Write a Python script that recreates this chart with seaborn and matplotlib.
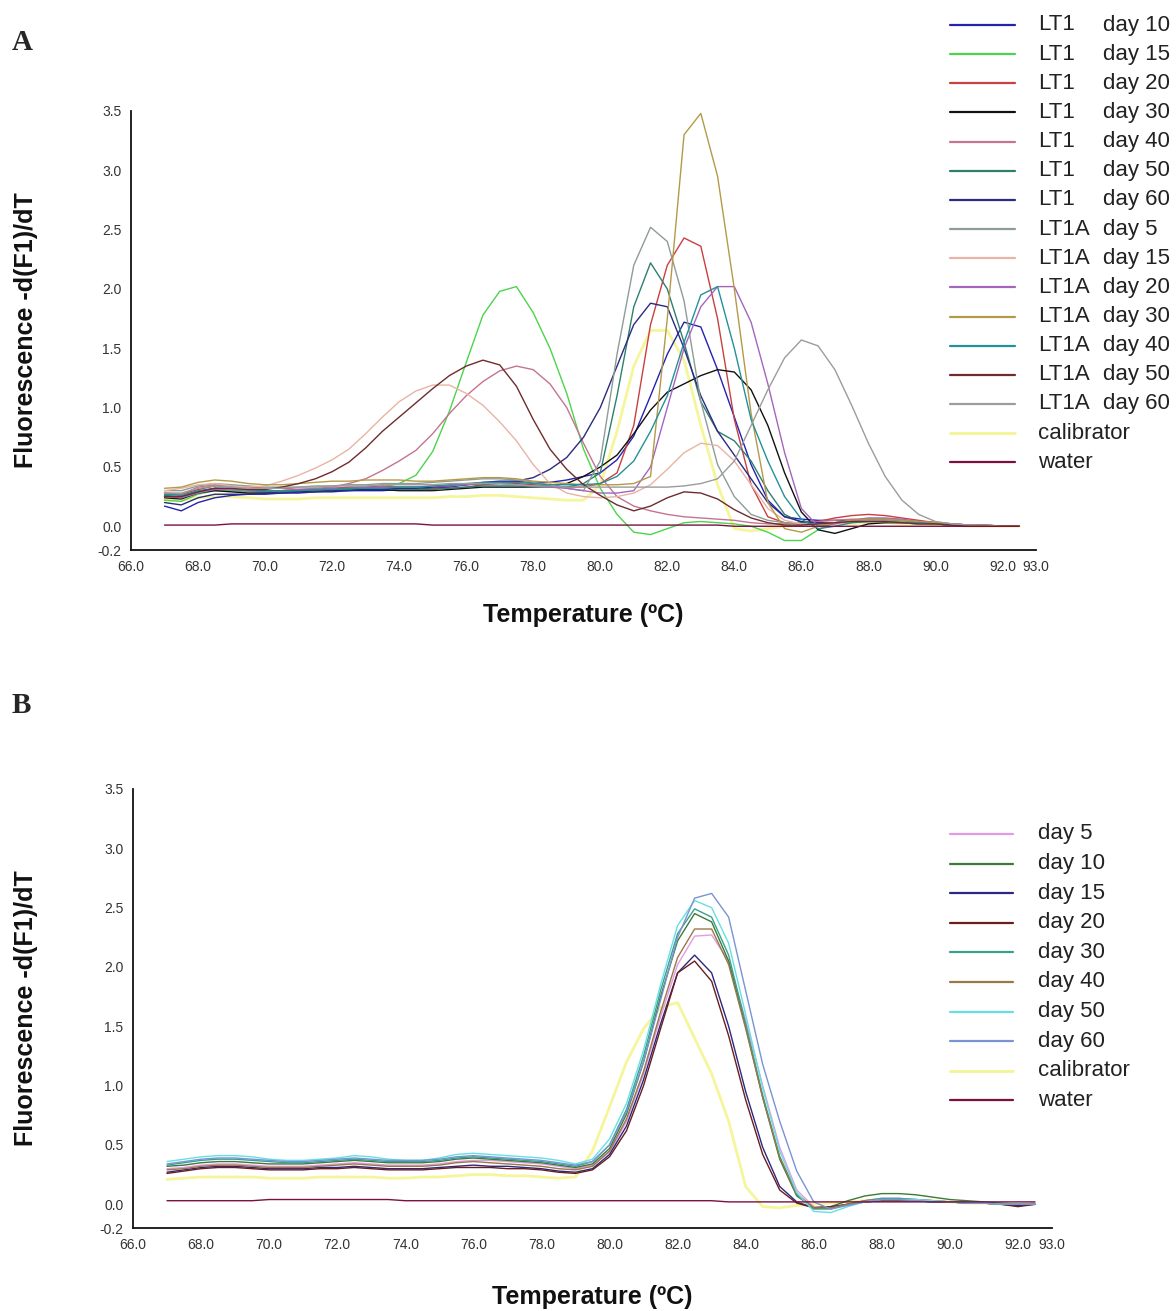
import numpy as np
import pandas as pd
import matplotlib
matplotlib.use("Agg")
import matplotlib.pyplot as plt
from matplotlib.lines import Line2D
import seaborn as sns

# ---------------- data ----------------
temps = np.round(np.arange(67.0, 92.51, 0.5), 2)  # 52 sampling temperatures

# Panel A
lt1_d10 = [0.17,0.13,0.20,0.24,0.26,0.27,0.27,0.28,0.28,0.29,
           0.29,0.30,0.30,0.30,0.31,0.31,0.32,0.33,0.35,0.37,
           0.38,0.38,0.37,0.37,0.39,0.42,0.45,0.56,0.76,1.10,
           1.45,1.72,1.68,1.32,0.92,0.52,0.22,0.08,0.06,0.05,
           0.05,0.05,0.06,0.06,0.05,0.04,0.03,0.02,0.01,0.01,
           0.00,0.00]
lt1_d15 = [0.22,0.21,0.27,0.30,0.30,0.29,0.29,0.30,0.30,0.31,
           0.31,0.32,0.32,0.33,0.36,0.43,0.63,0.97,1.38,1.78,
           1.98,2.02,1.80,1.50,1.12,0.65,0.32,0.10,-0.05,-0.07,
           -0.02,0.03,0.04,0.03,0.02,0.00,-0.05,-0.12,-0.12,-0.03,
           0.03,0.05,0.06,0.06,0.05,0.04,0.03,0.02,0.01,0.00,
           0.00,0.00]
lt1_d20 = [0.28,0.27,0.31,0.34,0.34,0.33,0.32,0.32,0.31,0.31,
           0.32,0.33,0.33,0.34,0.33,0.33,0.32,0.32,0.33,0.35,
           0.36,0.36,0.35,0.34,0.33,0.33,0.36,0.45,0.85,1.70,
           2.20,2.43,2.36,1.75,0.90,0.35,0.08,0.03,0.02,0.04,
           0.07,0.09,0.10,0.09,0.07,0.05,0.03,0.02,0.01,0.01,
           0.00,0.00]
lt1_d30 = [0.24,0.23,0.28,0.30,0.29,0.28,0.28,0.29,0.29,0.30,
           0.30,0.31,0.31,0.31,0.30,0.30,0.30,0.31,0.32,0.33,
           0.33,0.33,0.33,0.34,0.36,0.42,0.50,0.60,0.78,0.98,
           1.13,1.20,1.27,1.32,1.30,1.15,0.85,0.45,0.12,-0.03,
           -0.06,-0.02,0.02,0.03,0.03,0.02,0.02,0.01,0.01,0.00,
           0.00,0.00]
lt1_d40 = [0.27,0.27,0.33,0.35,0.33,0.31,0.30,0.30,0.31,0.32,
           0.33,0.36,0.40,0.47,0.55,0.64,0.78,0.95,1.10,1.22,
           1.31,1.35,1.32,1.20,1.00,0.70,0.42,0.25,0.17,0.13,
           0.10,0.08,0.07,0.06,0.05,0.03,0.02,0.02,0.03,0.04,
           0.05,0.06,0.06,0.05,0.04,0.03,0.02,0.01,0.01,0.00,
           0.00,0.00]
lt1_d50 = [0.26,0.25,0.29,0.32,0.31,0.30,0.29,0.29,0.30,0.30,
           0.31,0.31,0.32,0.32,0.31,0.31,0.31,0.32,0.33,0.34,
           0.34,0.34,0.33,0.33,0.33,0.36,0.45,1.10,1.85,2.22,
           2.00,1.55,1.05,0.80,0.72,0.55,0.30,0.10,0.03,0.02,
           0.03,0.04,0.05,0.05,0.04,0.03,0.02,0.01,0.01,0.00,
           0.00,0.00]
lt1_d60 = [0.20,0.18,0.24,0.27,0.27,0.27,0.28,0.28,0.29,0.29,
           0.30,0.30,0.31,0.31,0.32,0.32,0.33,0.34,0.35,0.36,
           0.37,0.38,0.41,0.48,0.58,0.75,1.00,1.35,1.70,1.88,
           1.85,1.50,1.10,0.80,0.60,0.40,0.20,0.08,0.04,0.03,
           0.03,0.04,0.05,0.05,0.04,0.03,0.02,0.01,0.01,0.00,
           0.00,0.00]
lt1a_d5 = [0.30,0.30,0.34,0.36,0.35,0.34,0.33,0.33,0.33,0.34,
           0.34,0.35,0.35,0.36,0.36,0.36,0.37,0.38,0.39,0.40,
           0.40,0.39,0.37,0.35,0.32,0.30,0.55,1.45,2.20,2.52,
           2.40,1.90,1.05,0.52,0.25,0.10,0.05,0.03,0.02,0.02,
           0.03,0.04,0.05,0.05,0.04,0.03,0.02,0.01,0.01,0.00,
           0.00,0.00]
lt1a_d15 = [0.30,0.32,0.35,0.36,0.34,0.33,0.34,0.38,0.43,0.49,
            0.56,0.65,0.78,0.92,1.05,1.14,1.19,1.19,1.12,1.02,
            0.88,0.72,0.52,0.36,0.28,0.25,0.24,0.25,0.28,0.35,
            0.48,0.62,0.70,0.68,0.55,0.35,0.15,0.05,0.02,0.01,
            0.02,0.03,0.04,0.04,0.03,0.02,0.02,0.01,0.01,0.00,
            0.00,0.00]
lt1a_d20 = [0.25,0.24,0.28,0.31,0.31,0.30,0.30,0.30,0.31,0.31,
            0.32,0.32,0.33,0.33,0.33,0.33,0.34,0.34,0.35,0.36,
            0.36,0.35,0.34,0.33,0.32,0.30,0.28,0.28,0.30,0.50,
            1.00,1.50,1.85,2.02,2.02,1.72,1.20,0.62,0.15,0.00,
            0.02,0.05,0.07,0.07,0.06,0.04,0.03,0.02,0.01,0.00,
            0.00,0.00]
lt1a_d30 = [0.32,0.33,0.37,0.39,0.38,0.36,0.35,0.35,0.36,0.37,
            0.38,0.38,0.39,0.39,0.39,0.38,0.38,0.39,0.40,0.41,
            0.41,0.40,0.38,0.37,0.36,0.35,0.35,0.35,0.36,0.42,
            1.75,3.30,3.48,2.95,2.00,0.95,0.20,-0.02,-0.05,0.00,
            0.03,0.05,0.06,0.06,0.05,0.04,0.03,0.02,0.01,0.00,
            0.00,0.00]
lt1a_d40 = [0.27,0.26,0.30,0.32,0.32,0.31,0.30,0.30,0.30,0.31,
            0.31,0.32,0.32,0.32,0.33,0.33,0.34,0.35,0.36,0.37,
            0.37,0.37,0.36,0.35,0.35,0.35,0.36,0.42,0.55,0.80,
            1.10,1.55,1.95,2.02,1.50,0.90,0.55,0.25,0.06,-0.02,
            0.00,0.03,0.04,0.04,0.03,0.03,0.02,0.01,0.01,0.00,
            0.00,0.00]
lt1a_d50 = [0.25,0.25,0.29,0.32,0.32,0.31,0.31,0.33,0.36,0.40,
            0.46,0.54,0.66,0.80,0.92,1.04,1.16,1.27,1.35,1.40,
            1.36,1.18,0.90,0.65,0.48,0.35,0.26,0.18,0.13,0.17,
            0.24,0.29,0.28,0.23,0.14,0.07,0.03,0.01,0.01,0.02,
            0.03,0.04,0.04,0.04,0.03,0.02,0.02,0.01,0.00,0.00,
            0.00,0.00]
lt1a_d60 = [0.28,0.28,0.32,0.34,0.33,0.32,0.32,0.32,0.33,0.33,
            0.34,0.34,0.34,0.35,0.35,0.35,0.35,0.36,0.36,0.36,
            0.36,0.35,0.34,0.34,0.33,0.33,0.33,0.33,0.33,0.33,
            0.33,0.34,0.36,0.40,0.55,0.85,1.15,1.42,1.57,1.52,
            1.32,1.02,0.70,0.42,0.22,0.10,0.04,0.02,0.01,0.01,
            0.00,0.00]
a_calibrator = [0.22,0.22,0.24,0.25,0.25,0.24,0.23,0.23,0.23,0.24,
                0.24,0.24,0.24,0.24,0.24,0.24,0.24,0.25,0.25,0.26,
                0.26,0.25,0.24,0.23,0.22,0.22,0.35,0.80,1.35,1.65,
                1.65,1.40,0.85,0.35,-0.02,-0.04,-0.02,0.00,0.01,0.02,
                0.02,0.02,0.03,0.03,0.02,0.02,0.01,0.01,0.00,0.00,
                0.00,0.00]
a_water = [0.01,0.01,0.01,0.01,0.02,0.02,0.02,0.02,0.02,0.02,
           0.02,0.02,0.02,0.02,0.02,0.02,0.01,0.01,0.01,0.01,
           0.01,0.01,0.01,0.01,0.01,0.01,0.01,0.01,0.01,0.01,
           0.01,0.01,0.01,0.01,0.00,0.00,0.00,0.00,0.00,0.00,
           0.00,0.00,0.00,0.00,0.00,0.00,0.00,0.00,0.00,0.00,
           0.00,0.00]

# Panel B
b_d5 = [0.30,0.31,0.33,0.34,0.34,0.33,0.32,0.32,0.32,0.33,
        0.34,0.35,0.34,0.33,0.33,0.33,0.34,0.36,0.37,0.37,
        0.36,0.35,0.34,0.32,0.30,0.33,0.44,0.70,1.10,1.58,
        2.02,2.26,2.27,2.05,1.55,1.00,0.48,0.12,-0.02,-0.03,
        0.00,0.03,0.05,0.05,0.04,0.03,0.02,0.02,0.01,0.00,
        0.00,0.01]
b_d10 = [0.32,0.33,0.35,0.36,0.36,0.35,0.34,0.34,0.34,0.35,
         0.36,0.37,0.36,0.35,0.35,0.35,0.36,0.38,0.39,0.38,
         0.37,0.36,0.35,0.33,0.31,0.34,0.47,0.76,1.20,1.75,
         2.22,2.45,2.38,2.05,1.50,0.90,0.38,0.07,-0.03,-0.02,
         0.03,0.07,0.09,0.09,0.08,0.06,0.04,0.03,0.02,0.01,
         0.00,0.00]
b_d15 = [0.27,0.29,0.31,0.32,0.32,0.31,0.30,0.30,0.30,0.31,
         0.31,0.32,0.31,0.30,0.30,0.30,0.31,0.32,0.33,0.32,
         0.32,0.31,0.30,0.28,0.27,0.30,0.42,0.66,1.05,1.52,
         1.95,2.10,1.95,1.50,0.95,0.48,0.15,0.02,-0.03,-0.03,
         0.00,0.02,0.03,0.03,0.03,0.02,0.02,0.01,0.01,0.00,
         -0.01,0.00]
b_d20 = [0.26,0.28,0.30,0.31,0.31,0.30,0.29,0.29,0.29,0.30,
         0.30,0.31,0.30,0.29,0.29,0.29,0.30,0.31,0.31,0.31,
         0.30,0.30,0.29,0.27,0.26,0.29,0.40,0.62,1.00,1.48,
         1.95,2.05,1.88,1.42,0.88,0.42,0.12,0.01,-0.03,-0.02,
         0.00,0.02,0.03,0.03,0.03,0.02,0.02,0.01,0.01,0.00,
         -0.02,0.00]
b_d30 = [0.33,0.35,0.37,0.38,0.38,0.37,0.36,0.35,0.35,0.36,
         0.37,0.38,0.37,0.36,0.36,0.36,0.37,0.39,0.40,0.39,
         0.38,0.37,0.36,0.34,0.32,0.36,0.50,0.80,1.25,1.80,
         2.28,2.49,2.42,2.10,1.52,0.92,0.40,0.08,-0.04,-0.04,
         0.00,0.03,0.05,0.05,0.04,0.03,0.02,0.02,0.01,0.00,
         0.00,0.00]
b_d40 = [0.29,0.30,0.32,0.33,0.33,0.32,0.31,0.31,0.31,0.32,
         0.33,0.34,0.33,0.32,0.32,0.32,0.33,0.35,0.36,0.35,
         0.34,0.33,0.32,0.30,0.29,0.32,0.45,0.72,1.12,1.62,
         2.08,2.32,2.32,2.02,1.48,0.90,0.40,0.09,-0.03,-0.03,
         0.00,0.03,0.04,0.04,0.04,0.03,0.02,0.02,0.01,0.00,
         0.00,0.00]
b_d50 = [0.36,0.38,0.40,0.41,0.41,0.40,0.38,0.37,0.37,0.38,
         0.39,0.41,0.40,0.38,0.37,0.37,0.39,0.42,0.43,0.42,
         0.41,0.40,0.39,0.37,0.34,0.38,0.55,0.85,1.30,1.85,
         2.35,2.56,2.50,2.20,1.60,0.98,0.45,0.10,-0.06,-0.07,
         -0.02,0.02,0.04,0.04,0.04,0.03,0.02,0.01,0.01,0.00,
         0.00,0.00]
b_d60 = [0.34,0.36,0.38,0.39,0.39,0.38,0.37,0.36,0.36,0.37,
         0.38,0.39,0.38,0.37,0.37,0.37,0.38,0.40,0.41,0.40,
         0.39,0.38,0.37,0.35,0.33,0.36,0.50,0.78,1.20,1.72,
         2.25,2.58,2.62,2.42,1.80,1.18,0.70,0.28,0.02,-0.04,
         -0.01,0.02,0.04,0.04,0.03,0.02,0.02,0.01,0.01,0.00,
         0.00,0.00]
b_calibrator = [0.21,0.22,0.23,0.23,0.23,0.23,0.22,0.22,0.22,0.23,
                0.23,0.23,0.23,0.22,0.22,0.23,0.23,0.24,0.25,0.25,
                0.24,0.24,0.23,0.22,0.23,0.45,0.82,1.20,1.48,1.66,
                1.70,1.40,1.10,0.70,0.15,-0.02,-0.03,-0.01,0.00,0.01,
                0.02,0.03,0.04,0.04,0.03,0.03,0.02,0.01,0.01,0.00,
                0.00,0.00]
b_water = [0.03,0.03,0.03,0.03,0.03,0.03,0.04,0.04,0.04,0.04,
           0.04,0.04,0.04,0.04,0.03,0.03,0.03,0.03,0.03,0.03,
           0.03,0.03,0.03,0.03,0.03,0.03,0.03,0.03,0.03,0.03,
           0.03,0.03,0.03,0.02,0.02,0.02,0.02,0.02,0.02,0.02,
           0.02,0.02,0.02,0.02,0.02,0.02,0.02,0.02,0.02,0.02,
           0.02,0.02]

a_names = ["LT1 day 10", "LT1 day 15", "LT1 day 20", "LT1 day 30", "LT1 day 40",
           "LT1 day 50", "LT1 day 60", "LT1A day 5", "LT1A day 15", "LT1A day 20",
           "LT1A day 30", "LT1A day 40", "LT1A day 50", "LT1A day 60",
           "calibrator", "water"]
a_series = [lt1_d10, lt1_d15, lt1_d20, lt1_d30, lt1_d40, lt1_d50, lt1_d60,
            lt1a_d5, lt1a_d15, lt1a_d20, lt1a_d30, lt1a_d40, lt1a_d50, lt1a_d60,
            a_calibrator, a_water]
a_colors = ["#2323b0", "#4cd44c", "#c84040", "#111111", "#c47490", "#2f7f6f",
            "#2b2b80", "#8e9c98", "#e8b4a4", "#a466bc", "#b49a48", "#25909a",
            "#6e2c2c", "#9c9c9c", "#f2f27a", "#7a1040"]

b_names = ["day 5", "day 10", "day 15", "day 20", "day 30", "day 40", "day 50",
           "day 60", "calibrator", "water"]
b_series = [b_d5, b_d10, b_d15, b_d20, b_d30, b_d40, b_d50, b_d60,
            b_calibrator, b_water]
b_colors = ["#e49ae4", "#3a7a3a", "#2c2880", "#6a1e1e", "#3aa08e", "#9a7848",
            "#66e0e4", "#7894d4", "#f2f27a", "#7a1040"]

xticks = [66, 68, 70, 72, 74, 76, 78, 80, 82, 84, 86, 88, 90, 92, 93]
xtick_labels = ["66.0", "68.0", "70.0", "72.0", "74.0", "76.0", "78.0", "80.0",
                "82.0", "84.0", "86.0", "88.0", "90.0", "92.0", "93.0"]
yticks = [-0.2, 0.0, 0.5, 1.0, 1.5, 2.0, 2.5, 3.0, 3.5]
ytick_labels = ["-0.2", "0.0", "0.5", "1.0", "1.5", "2.0", "2.5", "3.0", "3.5"]

# ---------------- drawing ----------------
sns.set_style("white")
plt.rcParams["font.family"] = ["Liberation Sans", "DejaVu Sans"]

W, H = 1176, 1311
fig = plt.figure(figsize=(W / 100, H / 100), dpi=100)


def px_box(left, top, right, bottom):
    return [left / W, 1 - bottom / H, (right - left) / W, (bottom - top) / H]


def draw_panel(ax, names, series, colors):
    frames = []
    for n, vals in zip(names, series):
        assert len(vals) == len(temps), n
        frames.append(pd.DataFrame({"sample": n, "T": temps, "value": vals}))
    df = pd.concat(frames, ignore_index=True)
    pal = dict(zip(names, colors))
    cal = df[df["sample"] == "calibrator"]
    rest = df[df["sample"] != "calibrator"]
    rest_names = [n for n in names if n != "calibrator"]
    sns.lineplot(data=cal, x="T", y="value", color=pal["calibrator"],
                 linewidth=2.0, alpha=0.75, estimator=None, ax=ax, legend=False)
    sns.lineplot(data=rest, x="T", y="value", hue="sample", hue_order=rest_names,
                 palette={n: pal[n] for n in rest_names}, linewidth=1.0,
                 estimator=None, ax=ax, legend=False)
    ax.set_xlim(66, 93)
    ax.set_ylim(-0.2, 3.5)
    ax.set_xticks(xticks)
    ax.set_xticklabels(xtick_labels)
    ax.set_yticks(yticks)
    ax.set_yticklabels(ytick_labels)
    sns.despine(ax=ax)
    for s in ("left", "bottom"):
        ax.spines[s].set_linewidth(1.3)
        ax.spines[s].set_color("#111111")
    ax.tick_params(axis="both", direction="out", length=5, width=1.0,
                   color="#222222", labelsize=10, labelcolor="#333333", pad=2)
    ax.set_xlabel("Temperature (ºC)", fontsize=18, fontweight="bold", color="#111111")
    ax.set_ylabel("Fluorescence -d(F1)/dT", fontsize=18, fontweight="bold", color="#111111")
    ax.grid(False)


axA = fig.add_axes(px_box(131, 111, 1036, 550))
draw_panel(axA, a_names, a_series, a_colors)
axA.xaxis.set_label_coords(0.5, -0.12)
axA.yaxis.set_label_coords(-0.103, 0.5)

axB = fig.add_axes(px_box(133, 789, 1052, 1228))
draw_panel(axB, b_names, b_series, b_colors)
axB.xaxis.set_label_coords(0.5, -0.13)
axB.yaxis.set_label_coords(-0.103, 0.5)

# panel letters
fig.text(12 / W, 1 - 42 / H, "A", fontsize=21, fontweight="bold",
         family=["Liberation Serif", "DejaVu Serif"], va="center", ha="left")
fig.text(12 / W, 1 - 705 / H, "B", fontsize=21, fontweight="bold",
         family=["Liberation Serif", "DejaVu Serif"], va="center", ha="left")

# legends (drawn in figure pixels)
def legend_row(y, color, parts, x0=950, x1=1015, cols=(1038, 1103), lw=1.6):
    is_cal = color == "#f2f27a"
    fig.add_artist(Line2D([x0 / W, x1 / W], [1 - y / H, 1 - y / H],
                          color=color, linewidth=2.0 if is_cal else lw,
                          alpha=0.8 if is_cal else 1.0,
                          transform=fig.transFigure))
    for txt, cx in zip(parts, cols):
        fig.text(cx / W, 1 - y / H, txt, fontsize=16, color="#222222",
                 va="center", ha="left")


for i, (n, c) in enumerate(zip(a_names, a_colors)):
    y = 25 + i * 29.15
    if n.startswith("LT1"):
        grp, day = n.split(" ", 1)
        legend_row(y, c, (grp, day))
    else:
        legend_row(y, c, (n,))

for i, (n, c) in enumerate(zip(b_names, b_colors)):
    y = 834 + i * 29.6
    legend_row(y, c, (n,), x0=950, x1=1013)

fig.savefig("out.png", dpi=100, facecolor="white")
